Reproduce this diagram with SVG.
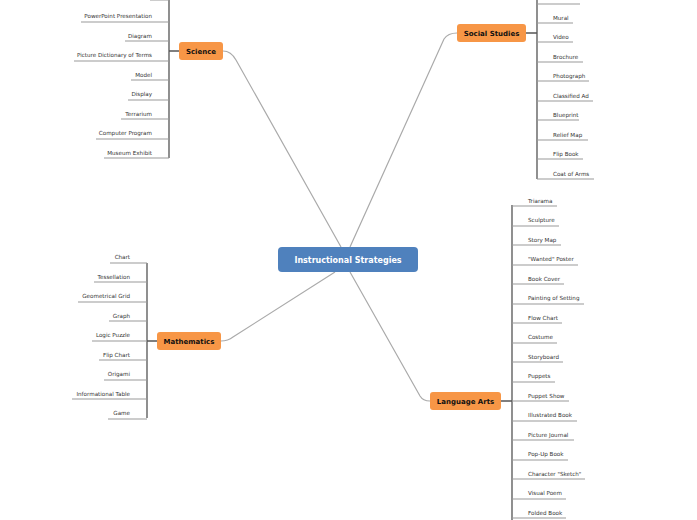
<svg xmlns="http://www.w3.org/2000/svg" width="697" height="520" viewBox="0 0 697 520">
<style>
.it{font-family:"DejaVu Sans",sans-serif;font-size:5.6px;fill:#333}
.r{text-anchor:end}
.ul{stroke:#999;stroke-width:1;fill:none}
.vl{stroke:#555;stroke-width:1.3;fill:none}
.br{stroke:#aaa;stroke-width:1.2;fill:none}
.nd{fill:#f79646}
.nt{font-family:"DejaVu Sans",sans-serif;font-size:7px;font-weight:bold;fill:#111;text-anchor:middle}
</style>
<rect width="697" height="520" fill="#fff"/>
<g id="connectors">
<path class="br" d="M341 247 L236 60 Q231 51 223 51"/>
<path class="br" d="M350 247 L444 39 Q448 33 457 33"/>
<path class="br" d="M350 272 L420 396 Q423 401 430 401"/>
<path class="br" d="M335 272 L233 337 Q228 341 221 341"/>
<path class="vl" d="M169 0 V158 M169 51 H179"/>
<path class="vl" d="M537 0 V179 M526 33 H537"/>
<path class="vl" d="M512 205 V520 M501 401 H512"/>
<path class="vl" d="M147 263 V418 M147 341 H157"/>
</g>
<g id="center">
<rect x="278" y="247" width="140" height="25" rx="4" fill="#4f81bd"/>
<text x="348" y="263" font-family="DejaVu Sans,sans-serif" font-size="8px" font-weight="bold" fill="#fff" text-anchor="middle">Instructional Strategies</text>
</g>
<g id="science">
<rect class="nd" x="179" y="42" width="44" height="18" rx="3"/>
<text class="nt" x="201" y="54">Science</text>
<path class="ul" d="M150 0H169 M81 22H169 M125 41H169 M74 61H169 M131 80H169 M128 100H169 M121 119H169 M96 139H169 M104 158H169"/>
<g class="it r">
<text x="152" y="18">PowerPoint Presentation</text>
<text x="152" y="38">Diagram</text>
<text x="152" y="57">Picture Dictionary of Terms</text>
<text x="152" y="77">Model</text>
<text x="152" y="96">Display</text>
<text x="152" y="116">Terrarium</text>
<text x="152" y="135">Computer Program</text>
<text x="152" y="155">Museum Exhibit</text>
</g>
</g>
<g id="social">
<rect class="nd" x="457" y="24" width="69" height="18" rx="3"/>
<text class="nt" x="491.5" y="36">Social Studies</text>
<path class="ul" d="M537 4H580 M537 23H573 M537 42H573 M537 62H583 M537 81H589 M537 101H593 M537 120H579 M537 140H588 M537 159H583 M537 179H594"/>
<g class="it">
<text x="553" y="20">Mural</text>
<text x="553" y="39">Video</text>
<text x="553" y="59">Brochure</text>
<text x="553" y="78">Photograph</text>
<text x="553" y="98">Classified Ad</text>
<text x="553" y="117">Blueprint</text>
<text x="553" y="137">Relief Map</text>
<text x="553" y="156">Flip Book</text>
<text x="553" y="176">Coat of Arms</text>
</g>
</g>
<g id="language">
<rect class="nd" x="430" y="392" width="71" height="18" rx="3"/>
<text class="nt" x="465.5" y="404">Language Arts</text>
<path class="ul" d="M512 206H557 M512 226H559 M512 245H561 M512 265H578 M512 284H564 M512 304H584 M512 323H562 M512 343H557 M512 362H563 M512 382H555 M512 401H569 M512 421H577 M512 440H574 M512 460H568 M512 479H585 M512 499H566 M512 518H566"/>
<g class="it">
<text x="528" y="203">Triarama</text>
<text x="528" y="222">Sculpture</text>
<text x="528" y="242">Story Map</text>
<text x="528" y="261">"Wanted" Poster</text>
<text x="528" y="281">Book Cover</text>
<text x="528" y="300">Painting of Setting</text>
<text x="528" y="320">Flow Chart</text>
<text x="528" y="339">Costume</text>
<text x="528" y="359">Storyboard</text>
<text x="528" y="378">Puppets</text>
<text x="528" y="398">Puppet Show</text>
<text x="528" y="417">Illustrated Book</text>
<text x="528" y="437">Picture Journal</text>
<text x="528" y="456">Pop-Up Book</text>
<text x="528" y="476">Character "Sketch"</text>
<text x="528" y="495">Visual Poem</text>
<text x="528" y="515">Folded Book</text>
</g>
</g>
<g id="math">
<rect class="nd" x="157" y="332" width="64" height="18" rx="3"/>
<text class="nt" x="189" y="344">Mathematics</text>
<path class="ul" d="M110 263H147 M94 282H147 M78 302H147 M109 321H147 M92 341H147 M99 360H147 M104 380H147 M72 399H147 M108 419H147"/>
<g class="it r">
<text x="130" y="259">Chart</text>
<text x="130" y="279">Tessellation</text>
<text x="130" y="298">Geometrical Grid</text>
<text x="130" y="318">Graph</text>
<text x="130" y="337">Logic Puzzle</text>
<text x="130" y="357">Flip Chart</text>
<text x="130" y="376">Origami</text>
<text x="130" y="396">Informational Table</text>
<text x="130" y="415">Game</text>
</g>
</g>
</svg>
